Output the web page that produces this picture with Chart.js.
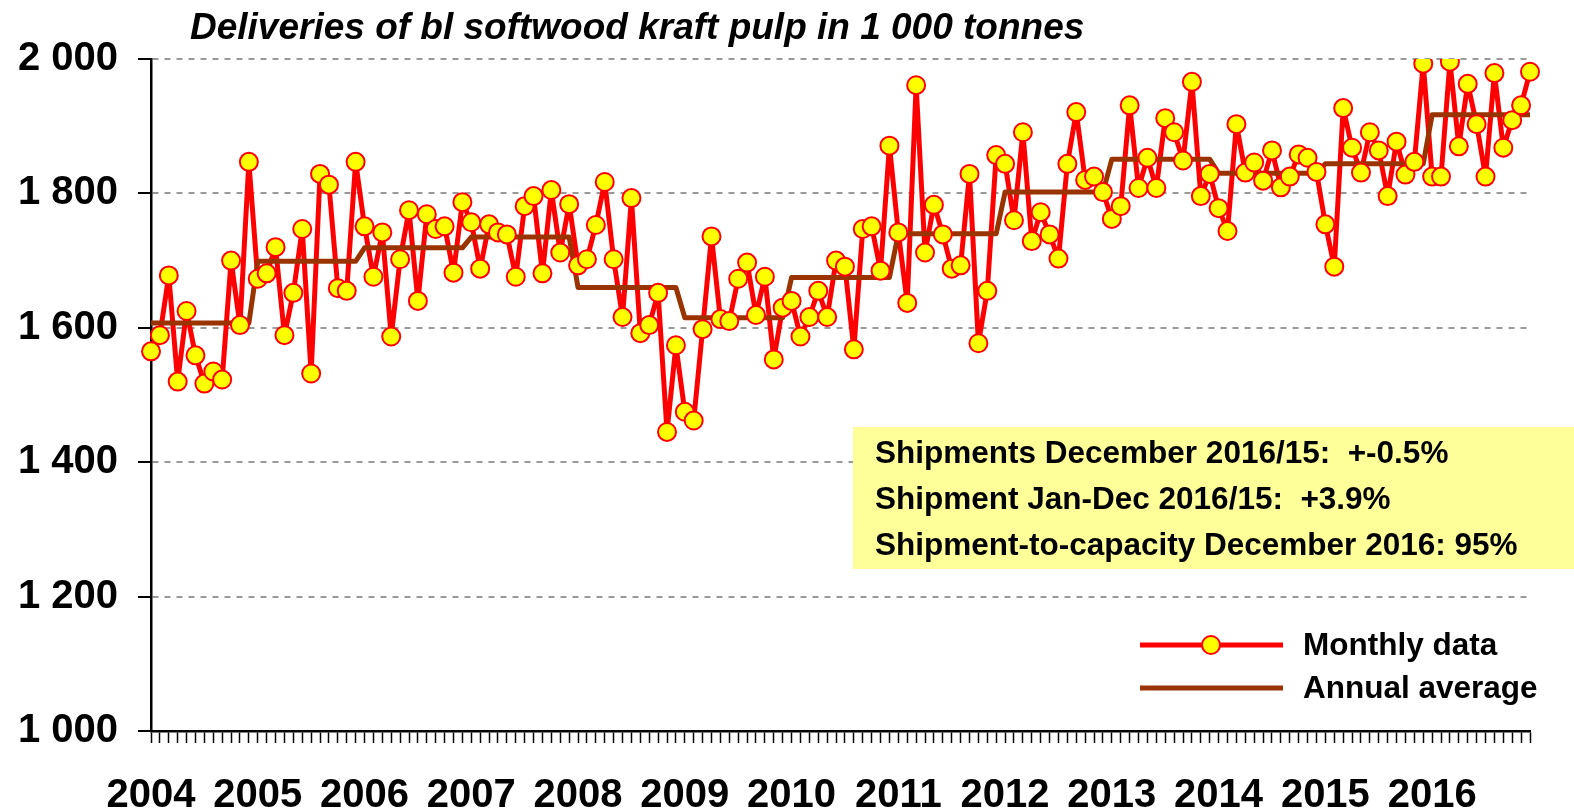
<!DOCTYPE html>
<html><head><meta charset="utf-8">
<script src="https://cdn.jsdelivr.net/npm/chart.js@4/dist/chart.umd.min.js"></script>
<style>html,body{margin:0;padding:0;background:#fff}#wrap{width:1574px;height:810px}</style>
</head><body><div id="wrap"><canvas id="c" width="1574" height="810"></canvas></div>
<script>
// ---- data (1 000 tonnes) ----
const years = ['2004','2005','2006','2007','2008','2009','2010','2011','2012','2013','2014','2015','2016'];
const m2004 = [1565,1589,1678,1520,1625,1559,1517,1535,1523,1700,1604,1847];
const m2005 = [1673,1681,1720,1589,1652,1747,1532,1829,1813,1659,1655,1847];
const m2006 = [1751,1676,1742,1587,1702,1775,1640,1769,1747,1751,1682,1787];
const m2007 = [1757,1688,1754,1742,1739,1676,1781,1796,1681,1805,1712,1784];
const m2008 = [1693,1702,1753,1817,1702,1616,1793,1592,1604,1652,1445,1574];
const m2009 = [1475,1462,1598,1736,1613,1610,1673,1697,1619,1676,1553,1630];
const m2010 = [1640,1587,1616,1655,1616,1700,1691,1568,1747,1751,1685,1871];
const m2011 = [1742,1637,1961,1712,1783,1739,1688,1693,1829,1577,1655,1857];
const m2012 = [1844,1760,1891,1729,1772,1739,1703,1844,1921,1820,1825,1802];
const m2013 = [1762,1781,1931,1808,1853,1808,1912,1891,1849,1966,1796,1829];
const m2014 = [1778,1744,1903,1831,1846,1819,1864,1809,1825,1858,1853,1832];
const m2015 = [1754,1691,1927,1868,1831,1891,1864,1796,1877,1828,1847,1993];
const m2016 = [1825,1825,1996,1870,1963,1903,1825,1979,1868,1909,1931,1981];
const annualAverage = [1607,1699,1719,1735,1660,1615,1675,1740,1802,1851,1830,1844,1917];
const yTickValues = [1000,1200,1400,1600,1800,2000];

const monthly = [].concat(m2004,m2005,m2006,m2007,m2008,m2009,m2010,m2011,m2012,m2013,m2014,m2015,m2016);
const labels = [];
const annualSeries = [];
years.forEach((y,i)=>{ for(let m=1;m<=12;m++){ labels.push(y+'-'+String(m).padStart(2,'0')); annualSeries.push(annualAverage[i]); } });

const RED='#FF0000', YEL='#FFFF00', BROWN='#993300';
const FONT='"Liberation Sans", Arial, sans-serif';

const overlay = {
  id:'overlay',
  beforeDatasetsDraw(chart){
    const ctx=chart.ctx; ctx.save();
    ctx.fillStyle='#FFFF99';
    ctx.fillRect(853,427,1574-853,142);
    ctx.fillStyle='#000';
    ctx.font='bold 31.5px '+FONT;
    ctx.textBaseline='alphabetic';
    ctx.textAlign='left';
    ctx.fillText('Shipments December 2016/15:  +-0.5%',875,463);
    ctx.fillText('Shipment Jan-Dec 2016/15:  +3.9%',875,509);
    ctx.fillText('Shipment-to-capacity December 2016: 95%',875,555);
    ctx.restore();
  },
  afterDraw(chart){
    const ctx=chart.ctx; ctx.save();
    // title
    ctx.fillStyle='#000';
    ctx.font='italic bold 37px '+FONT;
    ctx.textBaseline='alphabetic'; ctx.textAlign='left';
    ctx.fillText('Deliveries of bl softwood kraft pulp in 1 000 tonnes',190,39);
    // legend
    const ds0=chart.data.datasets[2], ds1=chart.data.datasets[1];
    ctx.lineCap='butt';
    ctx.strokeStyle=ds0.borderColor; ctx.lineWidth=ds0.borderWidth;
    ctx.beginPath(); ctx.moveTo(1140,645); ctx.lineTo(1283,645); ctx.stroke();
    ctx.beginPath(); ctx.arc(1211,645,9,0,Math.PI*2);
    ctx.fillStyle=YEL; ctx.fill(); ctx.lineWidth=2; ctx.strokeStyle=RED; ctx.stroke();
    ctx.strokeStyle=ds1.borderColor; ctx.lineWidth=ds1.borderWidth;
    ctx.beginPath(); ctx.moveTo(1140,688); ctx.lineTo(1283,688); ctx.stroke();
    ctx.fillStyle='#000'; ctx.font='bold 31.5px '+FONT; ctx.textBaseline='middle';
    ctx.fillText('Monthly data',1303,646);
    ctx.fillText('Annual average',1303,689);
    ctx.restore();
  }
};

new Chart(document.getElementById('c'),{
  type:'line',
  data:{labels,datasets:[
    {label:'Monthly data (markers)',data:monthly,showLine:false,pointRadius:9,pointBackgroundColor:YEL,pointBorderColor:RED,pointBorderWidth:2,order:0},
    {label:'Annual average',data:annualSeries,borderColor:BROWN,borderWidth:5,pointRadius:0,tension:0,order:1,borderJoinStyle:'round'},
    {label:'Monthly data',data:monthly,borderColor:RED,borderWidth:5,pointRadius:0,tension:0,order:2,borderJoinStyle:'round'}
  ]},
  options:{
    responsive:false,animation:false,events:[],
    layout:{padding:{top:59,right:44,left:0,bottom:0}},
    plugins:{legend:{display:false},title:{display:false},tooltip:{enabled:false}},
    scales:{
      x:{type:'category',offset:false,
        grid:{display:true,drawOnChartArea:false,drawTicks:true,tickLength:12,tickColor:'#000',tickWidth:1.5},
        border:{display:true,color:'#000',width:2.5},
        ticks:{autoSkip:false,maxRotation:0,minRotation:0,padding:29,color:'#000',font:{family:FONT,size:40,weight:'bold'},
          callback:(v,i)=> i%12===0 ? years[i/12] : ''},
        afterFit:(s)=>{s.height=79;}
      },
      y:{min:1000,max:2000,
        afterBuildTicks:(s)=>{s.ticks=yTickValues.map(v=>({value:v}));},
        grid:{color:'#999999',lineWidth:2,tickColor:'#000',tickWidth:2,tickLength:13,drawTicks:true},
        border:{display:true,color:'#000',width:2.5,dash:[6,6]},
        ticks:{padding:20,color:'#000',font:{family:FONT,size:40,weight:'bold'},
          callback:(v)=> String(v).replace(/\B(?=(\d{3})+(?!\d))/g,' ')},
        afterFit:(s)=>{s.width=151;}
      }
    }
  },
  plugins:[overlay]
});
</script></body></html>
